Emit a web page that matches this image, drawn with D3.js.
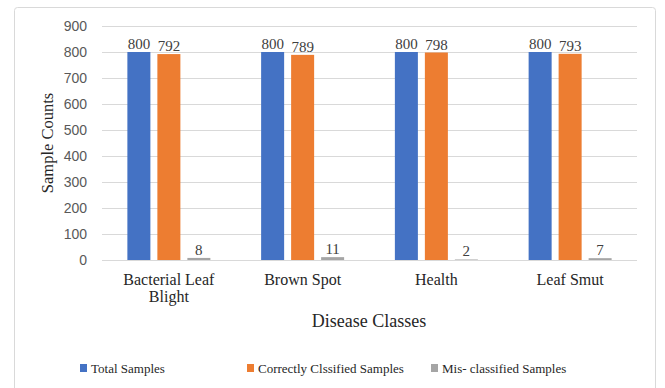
<!DOCTYPE html>
<html><head><meta charset="utf-8">
<script src="https://cdn.jsdelivr.net/npm/d3@7"></script>
<style>body{margin:0;background:#fff}svg{display:block}text{font-family:"Liberation Serif","Times New Roman",serif}</style>
</head><body><svg id="c" width="665" height="388"></svg>
<script>
const categories = ["Bacterial Leaf Blight", "Brown Spot", "Health", "Leaf Smut"];
const categoryLines = [["Bacterial Leaf", "Blight"], ["Brown Spot"], ["Health"], ["Leaf Smut"]];
const seriesNames = ["Total Samples", "Correctly Clssified Samples", "Mis- classified Samples"];
const totalSamples = [800, 800, 800, 800];
const correctSamples = [792, 789, 798, 793];
const misSamples = [8, 11, 2, 7];
const yTicks = [0, 100, 200, 300, 400, 500, 600, 700, 800, 900];
const colors = ["#4472C4", "#ED7D31", "#A5A5A5"];
const seriesValues = [totalSamples, correctSamples, misSamples];

const svg = d3.select("#c");
svg.append("rect").attr("x", 14.5).attr("y", 7.5).attr("width", 641).attr("height", 390)
  .attr("rx", 3).attr("fill", "#fff").attr("stroke", "#d9d9d9");

const y = d3.scaleLinear().domain([0, 900]).range([260, 26]);
const x0 = d3.scaleBand().domain(categories).range([102, 637]);
const groupW = 83;
const x1 = d3.scaleBand().domain(seriesNames).range([0, groupW]).paddingInner(0.233);
const off = (x0.bandwidth() - groupW) / 2;

// gridlines
svg.append("g").selectAll("line").data(yTicks).join("line")
  .attr("x1", 102).attr("x2", 637).attr("y1", d => Math.round(y(d)) + 0.5).attr("y2", d => Math.round(y(d)) + 0.5)
  .attr("stroke", "#d9d9d9").attr("stroke-width", 1);

// y axis labels
const yAxis = d3.axisLeft(y).tickValues(yTicks).tickSize(0).tickPadding(0);
const ya = svg.append("g").attr("transform", "translate(87,0)").call(yAxis);
ya.select(".domain").remove();
ya.selectAll("text").attr("fill", "#595959").style("font-size", "14px").style("font-family", "'Liberation Sans',Arial,sans-serif");

// bars
seriesNames.forEach((s, si) => {
  const g = svg.append("g");
  g.selectAll("rect").data(categories).join("rect")
    .attr("x", c => x0(c) + off + x1(s))
    .attr("width", x1.bandwidth())
    .attr("y", (c, i) => y(seriesValues[si][i]))
    .attr("height", (c, i) => 260 - y(seriesValues[si][i]))
    .attr("fill", colors[si]);
  g.selectAll("text").data(categories).join("text")
    .attr("x", c => x0(c) + off + x1(s) + x1.bandwidth() / 2)
    .attr("y", (c, i) => y(seriesValues[si][i]) - 3)
    .attr("text-anchor", "middle").attr("fill", "#404040").style("font-size", "15px")
    .text((c, i) => seriesValues[si][i]);
});

// category labels
categories.forEach((c, i) => {
  const t = svg.append("text").attr("x", x0(c) + x0.bandwidth() / 2).attr("y", 285)
    .attr("text-anchor", "middle").attr("fill", "#262626").style("font-size", "16px");
  categoryLines[i].forEach((l, li) => t.append("tspan").attr("x", x0(c) + x0.bandwidth() / 2).attr("dy", li ? 17 : 0).text(l));
});

// axis titles
svg.append("text").attr("x", 369).attr("y", 327).attr("text-anchor", "middle")
  .attr("fill", "#262626").style("font-size", "18px").text("Disease Classes");
svg.append("text").attr("transform", "translate(53,143) rotate(-90)").attr("text-anchor", "middle")
  .attr("fill", "#262626").style("font-size", "16.5px").text("Sample Counts");

// legend
const legX = [80, 247, 431];
const lg = svg.append("g");
seriesNames.forEach((s, i) => {
  lg.append("rect").attr("x", legX[i]).attr("y", 364).attr("width", 7).attr("height", 8).attr("fill", colors[i]);
  lg.append("text").attr("x", legX[i] + 11).attr("y", 373).attr("fill", "#262626").style("font-size", "13px").text(s);
});
</script></body></html>
